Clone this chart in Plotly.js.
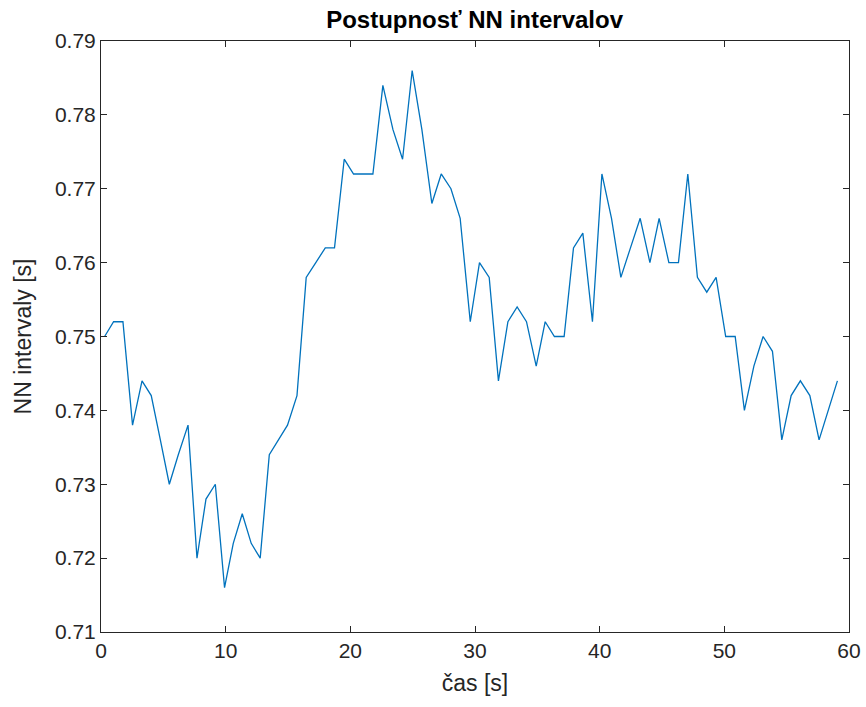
<!DOCTYPE html>
<html>
<head>
<meta charset="utf-8">
<script src="https://cdn.plot.ly/plotly-3.0.1.min.js"></script>
<style>html,body{margin:0;padding:0;background:#fff;}#chart{width:866px;height:707px;}</style>
</head>
<body>
<div id="chart"></div>
<script>
const timeS = [0.29,1.01,1.76,2.53,3.29,4.03,4.76,5.48,6.20,6.98,7.70,8.42,9.17,9.91,10.61,11.33,12.05,12.77,13.50,14.22,14.96,15.72,16.46,17.23,17.99,18.73,19.51,20.26,21.03,21.81,22.61,23.42,24.19,24.96,25.74,26.54,27.29,28.07,28.81,29.62,30.36,31.14,31.88,32.64,33.38,34.13,34.91,35.63,36.37,37.15,37.90,38.65,39.42,40.18,40.95,41.70,42.47,43.25,44.03,44.77,45.55,46.32,47.07,47.84,48.59,49.34,50.11,50.87,51.61,52.37,53.11,53.86,54.61,55.36,56.10,56.86,57.60,58.33,59.07];
const nnIntervals = [0.750,0.752,0.752,0.738,0.744,0.742,0.736,0.730,0.734,0.738,0.720,0.728,0.730,0.716,0.722,0.726,0.722,0.720,0.734,0.736,0.738,0.742,0.758,0.760,0.762,0.762,0.774,0.772,0.772,0.772,0.784,0.778,0.774,0.786,0.778,0.768,0.772,0.770,0.766,0.752,0.760,0.758,0.744,0.752,0.754,0.752,0.746,0.752,0.750,0.750,0.762,0.764,0.752,0.772,0.766,0.758,0.762,0.766,0.760,0.766,0.760,0.760,0.772,0.758,0.756,0.758,0.750,0.750,0.740,0.746,0.750,0.748,0.736,0.742,0.744,0.742,0.736,0.740,0.744];
const xTicks = [0,10,20,30,40,50,60];
const yTicks = [0.71,0.72,0.73,0.74,0.75,0.76,0.77,0.78,0.79];

const axisColor = '#262626';
const fontFam = '"Liberation Sans", Arial, Helvetica, sans-serif';

Plotly.newPlot('chart', [{
  x: timeS, y: nnIntervals, type: 'scatter', mode: 'lines',
  line: {color: '#0072BD', width: 1.3}, hoverinfo: 'skip'
}], {
  width: 866, height: 707,
  margin: {l: 101, r: 17, t: 41, b: 75},
  paper_bgcolor: '#fff', plot_bgcolor: '#fff',
  showlegend: false,
  font: {family: fontFam, color: axisColor},
  title: {text: '<b>Postupnosť NN intervalov</b>', font: {size: 24, color: '#000', family: fontFam}, x: 0.548, xanchor: 'center', y: 0.972, yanchor: 'middle'},
  xaxis: {
    range: [0, 60], tickvals: xTicks, ticktext: xTicks.map(String),
    ticks: 'inside', ticklen: 6, tickcolor: axisColor, tickwidth: 1,
    showline: true, linecolor: axisColor, linewidth: 1, mirror: 'ticks',
    showgrid: false, zeroline: false,
    tickfont: {size: 21, color: axisColor},
    title: {text: 'čas [s]', font: {size: 23, color: axisColor}, standoff: 13}
  },
  yaxis: {
    range: [0.71, 0.79], tickvals: yTicks, ticktext: yTicks.map(v => v.toFixed(2)),
    ticks: 'inside', ticklen: 6, tickcolor: axisColor, tickwidth: 1,
    showline: true, linecolor: axisColor, linewidth: 1, mirror: 'ticks',
    showgrid: false, zeroline: false,
    tickfont: {size: 21, color: axisColor},
    title: {text: 'NN intervaly [s]', font: {size: 23, color: axisColor}, standoff: 16}
  }
}, {staticPlot: true, displayModeBar: false});
</script>
</body>
</html>
